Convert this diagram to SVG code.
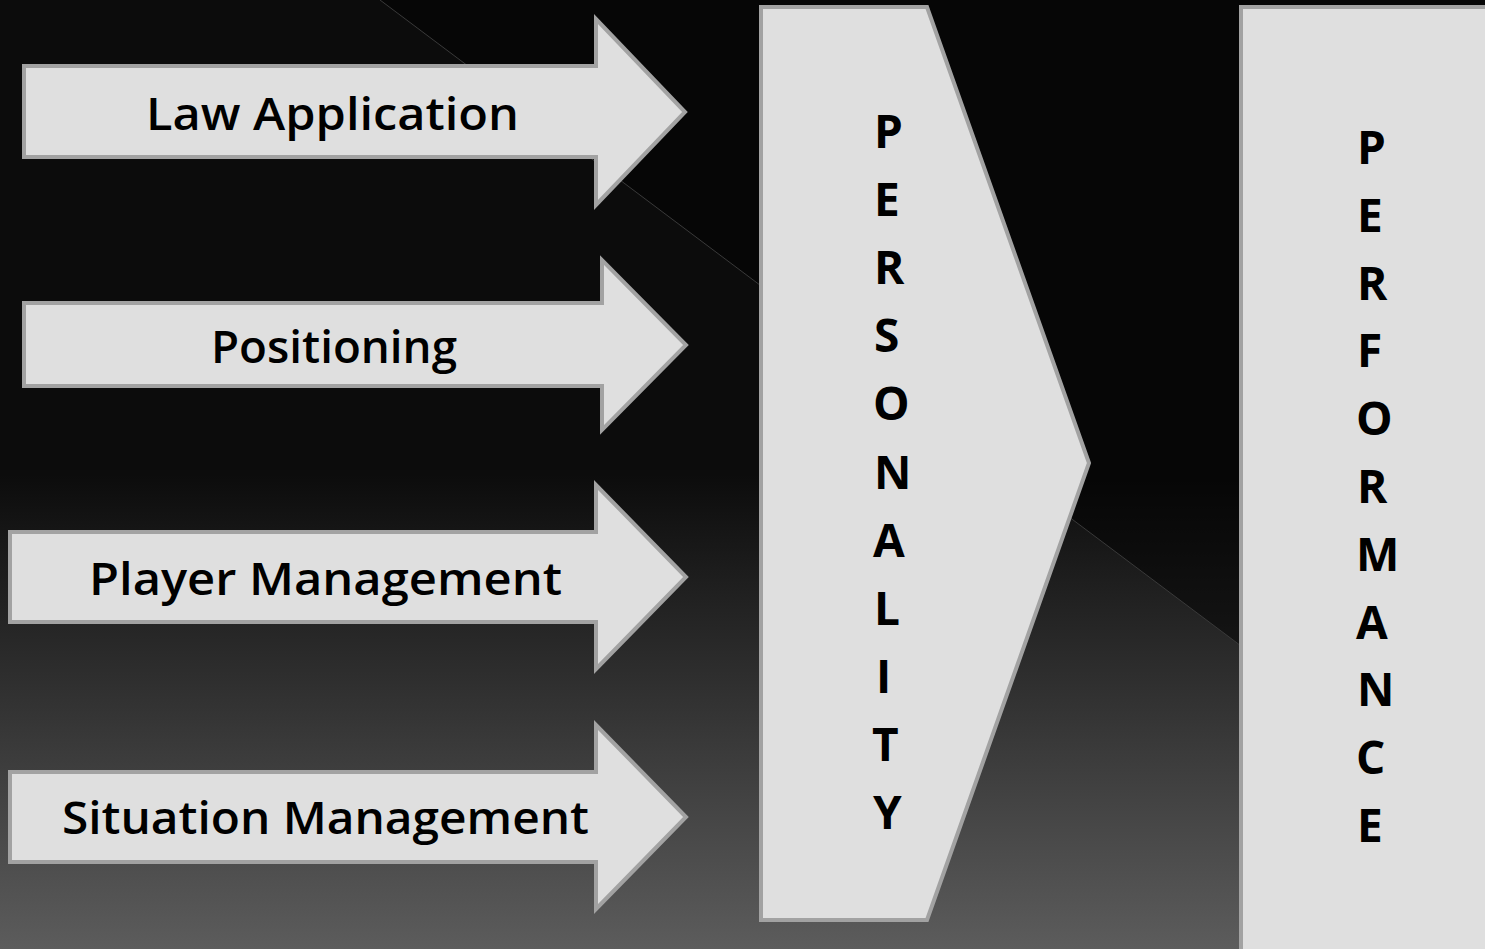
<svg xmlns="http://www.w3.org/2000/svg" width="1485" height="949" viewBox="0 0 1485 949">
  <defs>
    <linearGradient id="bg" gradientUnits="userSpaceOnUse" x1="0" y1="0" x2="0" y2="949">
      <stop offset="0" stop-color="#0c0c0c"/>
      <stop offset="0.5" stop-color="#0c0c0c"/>
      <stop offset="1" stop-color="#5c5c5c"/>
    </linearGradient>
  </defs>
  <style>
    .shape { fill: #dfdfdf; stroke: #a2a2a2; stroke-width: 4; stroke-linejoin: miter; }
    .label { font-family: "Open Sans", "Liberation Sans", sans-serif; font-weight: 600; font-size: 46px; fill: #000; }
    .vert { font-family: "Open Sans", "Liberation Sans", sans-serif; font-weight: 700; font-size: 46px; fill: #000; }
  </style>

  <g id="background">
    <rect x="0" y="0" width="1485" height="949" fill="url(#bg)"/>
    <polygon points="380,0 1485,0 1485,829" fill="#000" fill-opacity="0.5"/>
    <line x1="380" y1="0" x2="1485" y2="829" stroke="#3a3a3a" stroke-width="1"/>
  </g>

  <g id="connectors"></g>

  <g id="node-law-application">
    <path class="shape" d="M24,66 H596 V19 L685,112 L596,205 V157 H24 Z"/>
    <text class="label" x="146" y="130" textLength="373" lengthAdjust="spacingAndGlyphs">Law Application</text>
  </g>

  <g id="node-positioning">
    <path class="shape" d="M24,303 H602 V260 L686,345 L602,430 V386 H24 Z"/>
    <text class="label" x="211" y="363" textLength="246" lengthAdjust="spacingAndGlyphs">Positioning</text>
  </g>

  <g id="node-player-management">
    <path class="shape" d="M10,532 H596 V485 L686,577 L596,669 V622 H10 Z"/>
    <text class="label" x="89" y="595" textLength="473" lengthAdjust="spacingAndGlyphs">Player Management</text>
  </g>

  <g id="node-situation-management">
    <path class="shape" d="M10,772 H596 V725 L686,817 L596,909 V862 H10 Z"/>
    <text class="label" x="62" y="834" textLength="527" lengthAdjust="spacingAndGlyphs">Situation Management</text>
  </g>

  <g id="node-personality">
    <path class="shape" d="M761,7 H927 L1089,463 L927,920 H761 Z"/>
    <text class="vert" x="874" y="148">P</text>
    <text class="vert" x="874" y="216">E</text>
    <text class="vert" x="874" y="284">R</text>
    <text class="vert" x="874" y="352">S</text>
    <text class="vert" x="873" y="420">O</text>
    <text class="vert" x="874" y="489">N</text>
    <text class="vert" x="873" y="557">A</text>
    <text class="vert" x="874" y="625">L</text>
    <text class="vert" x="876" y="693">I</text>
    <text class="vert" x="872" y="761">T</text>
    <text class="vert" x="873" y="829">Y</text>
  </g>

  <g id="node-performance">
    <rect class="shape" x="1241" y="7" width="300" height="1000"/>
    <text class="vert" x="1357" y="164">P</text>
    <text class="vert" x="1357" y="232">E</text>
    <text class="vert" x="1357" y="300">R</text>
    <text class="vert" x="1357" y="367">F</text>
    <text class="vert" x="1356" y="435">O</text>
    <text class="vert" x="1357" y="503">R</text>
    <text class="vert" x="1356" y="571">M</text>
    <text class="vert" x="1356" y="639">A</text>
    <text class="vert" x="1357" y="706">N</text>
    <text class="vert" x="1356" y="774">C</text>
    <text class="vert" x="1357" y="842">E</text>
  </g>
</svg>
